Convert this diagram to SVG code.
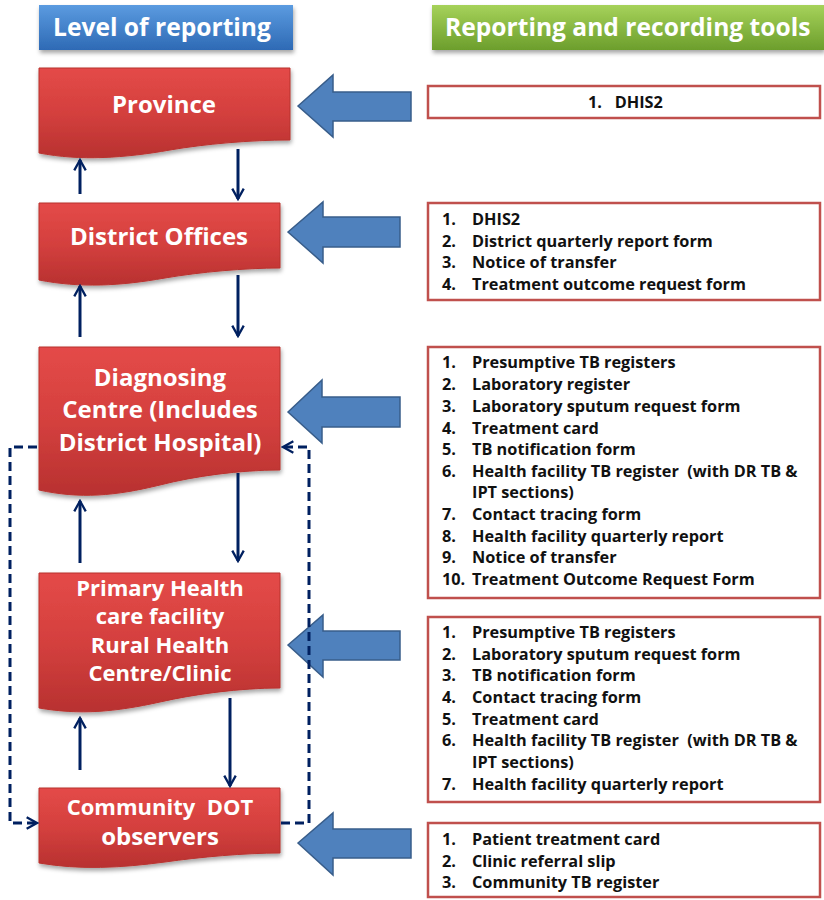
<svg xmlns="http://www.w3.org/2000/svg" width="824" height="900" viewBox="0 0 824 900">
  <style>
    .hdr { font-family: "Open Sans", "Liberation Sans", sans-serif; font-weight: bold; font-size: 24.6px; fill: #ffffff; }
    .lvl { fill: url(#redGrad); stroke: #b8322f; stroke-width: 1; filter: url(#shadow); }
    .lvlText { font-family: "Open Sans", "Liberation Sans", sans-serif; font-weight: bold; font-size: 24px; fill: #ffffff; text-anchor: middle; white-space: pre; }
    .small { font-size: 22px; }
    .feed { fill: #4f81bd; stroke: #385d8a; stroke-width: 1.5; }
    .toolBox { fill: #ffffff; stroke: #c0504d; stroke-width: 2.5; }
    .tool { font-family: "Open Sans", "Liberation Sans", sans-serif; font-weight: bold; font-size: 16.3px; fill: #111111; white-space: pre; }
    .flow { fill: none; stroke: #002060; stroke-width: 3; }
    .dash { fill: none; stroke: #002060; stroke-width: 3; stroke-dasharray: 9 5; }
  </style>
  <defs>
    <linearGradient id="redGrad" x1="0" y1="0" x2="0" y2="1">
      <stop offset="0" stop-color="#e44a48"/>
      <stop offset="0.5" stop-color="#d4403e"/>
      <stop offset="1" stop-color="#b83130"/>
    </linearGradient>
    <linearGradient id="blueGrad" x1="0" y1="0" x2="0" y2="1">
      <stop offset="0" stop-color="#5b9be0"/>
      <stop offset="1" stop-color="#2e6ab5"/>
    </linearGradient>
    <linearGradient id="greenGrad" x1="0" y1="0" x2="0" y2="1">
      <stop offset="0" stop-color="#a6d25a"/>
      <stop offset="1" stop-color="#6c9e2c"/>
    </linearGradient>
    <filter id="shadow" x="-10%" y="-10%" width="120%" height="130%">
      <feDropShadow dx="1" dy="3" stdDeviation="2" flood-color="#000000" flood-opacity="0.35"/>
    </filter>
    <marker id="head" viewBox="0 0 12 12" refX="10" refY="6" markerWidth="4.6" markerHeight="4.6" orient="auto" markerUnits="strokeWidth">
      <path d="M1,1 L10,6 L1,11" fill="none" stroke="#002060" stroke-width="2"/>
    </marker>
  </defs>

  <!-- column headers -->
  <g id="header-level">
    <rect x="39" y="5" width="254" height="45" fill="url(#blueGrad)" filter="url(#shadow)"/>
    <text class="hdr" x="53" y="36">Level of reporting</text>
  </g>
  <g id="header-tools">
    <rect x="432" y="5" width="392" height="45" fill="url(#greenGrad)" filter="url(#shadow)"/>
    <text class="hdr" x="445" y="36">Reporting and recording tools</text>
  </g>

  <!-- reporting levels -->
  <g id="province">
    <path class="lvl" d="M39,68 H290 V140 C250,140 205,144 170,150 C125,158 80,161 39,153 Z"/>
    <text class="lvlText" x="164" y="113">Province</text>
  </g>
  <g id="district">
    <path class="lvl" d="M39,203 H280 V268 C245,268 200,272 165,278 C120,286 80,288 39,280 Z"/>
    <text class="lvlText" x="159" y="245">District Offices</text>
  </g>
  <g id="diagnosing">
    <path class="lvl" d="M39,347 H280 V470 C240,470 195,476 160,485 C115,496 80,499 39,490 Z"/>
    <text class="lvlText" x="160" y="386">Diagnosing</text>
    <text class="lvlText" x="160" y="418">Centre (Includes</text>
    <text class="lvlText" x="160" y="451">District Hospital)</text>
  </g>
  <g id="primary">
    <path class="lvl" d="M39,573 H280 V688 C240,688 195,694 160,702 C115,712 80,715 39,708 Z"/>
    <text class="lvlText small" x="160" y="596">Primary Health</text>
    <text class="lvlText small" x="160" y="624">care facility</text>
    <text class="lvlText small" x="160" y="653">Rural Health</text>
    <text class="lvlText small" x="160" y="681">Centre/Clinic</text>
  </g>
  <g id="community">
    <path class="lvl" d="M39,788 H280 V853 C245,853 200,857 165,862 C120,868 80,870 39,863 Z"/>
    <text class="lvlText small" x="160" y="815">Community  DOT</text>
    <text class="lvlText" x="160" y="845">observers</text>
  </g>

  <!-- block arrows feeding tools into levels -->
  <g id="feed-arrows">
    <polygon class="feed" points="298,106 333,75 333,92 411,92 411,121 333,121 333,137"/>
    <polygon class="feed" points="288,232 323,202 323,217 400,217 400,247 323,247 323,263"/>
    <polygon class="feed" points="288,412 322,380 322,397 400,397 400,427 322,427 322,443"/>
    <polygon class="feed" points="288,645 323,615 323,631 400,631 400,660 323,660 323,677"/>
    <polygon class="feed" points="298,843 333,813 333,829 411,829 411,858 333,858 333,875"/>
  </g>

  <!-- tool lists -->
  <g id="tools-province">
    <rect class="toolBox" x="428" y="86" width="392" height="32"/>
    <text class="tool" x="588" y="108">1.   DHIS2</text>
  </g>
  <g id="tools-district">
    <rect class="toolBox" x="428" y="203" width="392" height="97"/>
    <text class="tool" x="442" y="225">1.</text><text class="tool" x="472" y="225">DHIS2</text>
    <text class="tool" x="442" y="247">2.</text><text class="tool" x="472" y="247">District quarterly report form</text>
    <text class="tool" x="442" y="268">3.</text><text class="tool" x="472" y="268">Notice of transfer</text>
    <text class="tool" x="442" y="290">4.</text><text class="tool" x="472" y="290">Treatment outcome request form</text>
  </g>
  <g id="tools-diagnosing">
    <rect class="toolBox" x="428" y="347" width="392" height="251"/>
    <text class="tool" x="442" y="368">1.</text><text class="tool" x="472" y="368">Presumptive TB registers</text>
    <text class="tool" x="442" y="390">2.</text><text class="tool" x="472" y="390">Laboratory register</text>
    <text class="tool" x="442" y="412">3.</text><text class="tool" x="472" y="412">Laboratory sputum request form</text>
    <text class="tool" x="442" y="434">4.</text><text class="tool" x="472" y="434">Treatment card</text>
    <text class="tool" x="442" y="455">5.</text><text class="tool" x="472" y="455">TB notification form</text>
    <text class="tool" x="442" y="477">6.</text><text class="tool" x="472" y="477">Health facility TB register  (with DR TB &amp;</text>
    <text class="tool" x="472" y="498">IPT sections)</text>
    <text class="tool" x="442" y="520">7.</text><text class="tool" x="472" y="520">Contact tracing form</text>
    <text class="tool" x="442" y="542">8.</text><text class="tool" x="472" y="542">Health facility quarterly report</text>
    <text class="tool" x="442" y="563">9.</text><text class="tool" x="472" y="563">Notice of transfer</text>
    <text class="tool" x="442" y="585">10.</text><text class="tool" x="472" y="585">Treatment Outcome Request Form</text>
  </g>
  <g id="tools-primary">
    <rect class="toolBox" x="428" y="617" width="392" height="185"/>
    <text class="tool" x="442" y="638">1.</text><text class="tool" x="472" y="638">Presumptive TB registers</text>
    <text class="tool" x="442" y="660">2.</text><text class="tool" x="472" y="660">Laboratory sputum request form</text>
    <text class="tool" x="442" y="681">3.</text><text class="tool" x="472" y="681">TB notification form</text>
    <text class="tool" x="442" y="703">4.</text><text class="tool" x="472" y="703">Contact tracing form</text>
    <text class="tool" x="442" y="725">5.</text><text class="tool" x="472" y="725">Treatment card</text>
    <text class="tool" x="442" y="746">6.</text><text class="tool" x="472" y="746">Health facility TB register  (with DR TB &amp;</text>
    <text class="tool" x="472" y="768">IPT sections)</text>
    <text class="tool" x="442" y="790">7.</text><text class="tool" x="472" y="790">Health facility quarterly report</text>
  </g>
  <g id="tools-community">
    <rect class="toolBox" x="428" y="823" width="392" height="74"/>
    <text class="tool" x="442" y="845">1.</text><text class="tool" x="472" y="845">Patient treatment card</text>
    <text class="tool" x="442" y="867">2.</text><text class="tool" x="472" y="867">Clinic referral slip</text>
    <text class="tool" x="442" y="888">3.</text><text class="tool" x="472" y="888">Community TB register</text>
  </g>

  <!-- reporting flows between levels -->
  <g id="connectors">
    <line class="flow" x1="80" y1="194" x2="80" y2="160" marker-end="url(#head)"/>
    <line class="flow" x1="238" y1="149" x2="238" y2="199" marker-end="url(#head)"/>
    <line class="flow" x1="80" y1="337" x2="80" y2="286" marker-end="url(#head)"/>
    <line class="flow" x1="238" y1="275" x2="238" y2="336" marker-end="url(#head)"/>
    <line class="flow" x1="80" y1="563" x2="80" y2="501" marker-end="url(#head)"/>
    <line class="flow" x1="238" y1="473" x2="238" y2="561" marker-end="url(#head)"/>
    <line class="flow" x1="80" y1="770" x2="80" y2="718" marker-end="url(#head)"/>
    <line class="flow" x1="230" y1="698" x2="230" y2="786" marker-end="url(#head)"/>
    <path class="dash" d="M37,447 H10 V823 H37" marker-end="url(#head)"/>
    <path class="dash" d="M281,823 H309 V447 H283" marker-end="url(#head)"/>
  </g>
</svg>
